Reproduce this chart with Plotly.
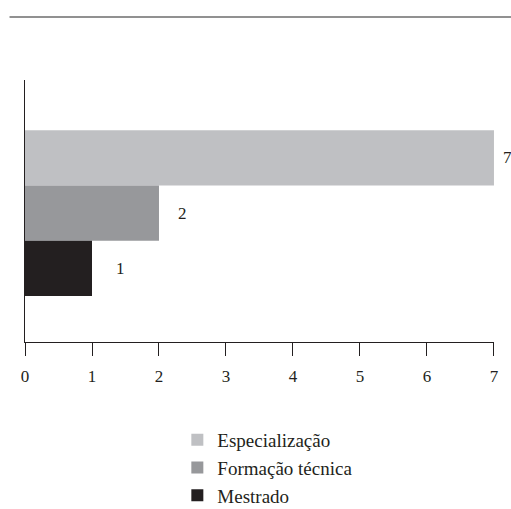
import plotly.graph_objects as go

categories = ["Especialização", "Formação técnica", "Mestrado"]
values = [7, 2, 1]
positions = [2, 1, 0]
colors = ["#bfc0c3", "#97989b", "#231f20"]
tick_vals = [0, 1, 2, 3, 4, 5, 6, 7]
label_shifts = [7, 17, 22]

FONT = "Liberation Serif"

fig = go.Figure()
for i, (cat, v, p, c, s) in enumerate(zip(categories, values, positions, colors, label_shifts)):
    fig.add_trace(go.Bar(
        x=[v], y=[p], orientation="h", name=cat,
        marker=dict(color=c, line=dict(width=0)),
        width=1, legendgroup=f"g{i}", hoverinfo="skip",
    ))
    fig.add_annotation(x=v, y=p, text=str(v), showarrow=False,
                       xanchor="left", xshift=s,
                       font=dict(family=FONT, size=17, color="#231f20"))

W, H = 511, 509
ml, mr, mt, mb = 24.5, W - 494, 80, H - 342
pw = W - ml - mr
ph = H - mt - mb

fig.add_shape(type="line", xref="paper", yref="paper",
              x0=(9 - ml) / pw, x1=(W - ml) / pw,
              y0=(H - mb - 17) / ph, y1=(H - mb - 17) / ph,
              line=dict(color="#6d6d6d", width=1.5))

fig.update_layout(
    width=W, height=H,
    margin=dict(l=ml, r=mr, t=mt, b=mb, autoexpand=False),
    paper_bgcolor="white", plot_bgcolor="white",
    barmode="overlay",
    font=dict(family=FONT, size=17, color="#231f20"),
    showlegend=True,
    legend=dict(
        x=(177 - ml) / pw, y=(H - mb - 421) / ph,
        xanchor="left", yanchor="top",
        traceorder="normal", tracegroupgap=11,
        font=dict(family=FONT, size=19, color="#231f20"),
        itemwidth=30, bgcolor="rgba(0,0,0,0)",
    ),
    xaxis=dict(
        range=[0, 7.0005], tickvals=tick_vals,
        showline=True, linecolor="#231f20", linewidth=1,
        ticks="outside", ticklen=13, tickcolor="#231f20", tickwidth=1,
        showgrid=False, zeroline=False, ticklabelstandoff=6,
        tickfont=dict(family=FONT, size=17, color="#231f20"),
    ),
    yaxis=dict(
        range=[-1.33, 3.41],
        showline=True, linecolor="#231f20", linewidth=1,
        showticklabels=False, ticks="", showgrid=False, zeroline=False,
    ),
)

fig.write_html(
    "out.html",
    config={"displayModeBar": False, "staticPlot": True},
    post_script="document.body.style.margin='0';document.body.style.overflow='hidden';",
)
